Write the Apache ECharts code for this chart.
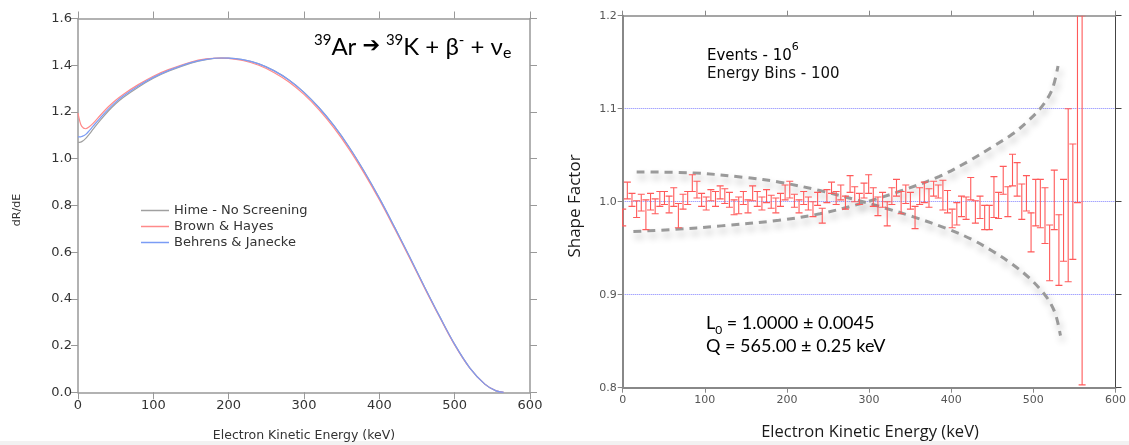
<!DOCTYPE html>
<html><head><meta charset="utf-8">
<script src="https://cdn.jsdelivr.net/npm/echarts@6/dist/echarts.min.js"></script>
<style>html,body{margin:0;padding:0;background:#fff}#c{width:1129px;height:445px}</style>
</head><body><div id="c"></div>
<script>
// ---------- Left panel: beta spectrum of 39Ar ----------
const energyL = [0, 2, 5, 10, 15, 20, 30, 40, 50, 60, 80, 100, 120, 150, 170, 190, 200, 220, 240, 260, 280, 300, 320, 340, 360, 380, 400, 420, 440, 460, 480, 500, 520, 540, 555, 565];
const hime    = [1.070, 1.070, 1.073, 1.086, 1.105, 1.126, 1.166, 1.203, 1.235, 1.262, 1.306, 1.344, 1.374, 1.409, 1.424, 1.430, 1.430, 1.423, 1.406, 1.377, 1.337, 1.284, 1.218, 1.140, 1.049, 0.945, 0.831, 0.708, 0.581, 0.451, 0.325, 0.205, 0.105, 0.035, 0.006, 0.0];
const brown   = [1.195, 1.165, 1.138, 1.128, 1.137, 1.151, 1.187, 1.221, 1.250, 1.275, 1.317, 1.353, 1.381, 1.414, 1.427, 1.431, 1.429, 1.419, 1.400, 1.369, 1.328, 1.275, 1.209, 1.131, 1.040, 0.937, 0.824, 0.702, 0.576, 0.447, 0.322, 0.203, 0.104, 0.035, 0.006, 0.0];
const behrens = [1.093, 1.093, 1.095, 1.103, 1.120, 1.139, 1.176, 1.211, 1.242, 1.268, 1.311, 1.348, 1.377, 1.411, 1.425, 1.431, 1.430, 1.423, 1.406, 1.377, 1.337, 1.284, 1.218, 1.140, 1.049, 0.945, 0.831, 0.708, 0.581, 0.451, 0.325, 0.205, 0.105, 0.035, 0.006, 0.0];
const seriesNames = ['Hime - No Screening', 'Brown & Hayes', 'Behrens & Janecke'];

// ---------- Right panel: shape factor, 100 energy bins ----------
const binWidth = 5.65; // keV (100 bins up to Q = 565 keV)
const shapeVal = [
  0.983, 1.012, 1.002, 0.992, 0.999, 0.986, 1.000, 0.995, 1.003, 1.004,
  0.997, 1.005, 0.985, 1.000, 1.004, 1.020, 1.013, 1.002, 0.998, 1.007,
  1.003, 1.010, 1.006, 1.002, 0.994, 0.996, 1.004, 0.995, 1.009, 1.003,
  0.998, 1.006, 1.000, 0.996, 1.002, 1.010, 1.013, 1.001, 0.995, 1.004,
  0.998, 0.992, 1.003, 0.985, 1.006, 1.015, 1.004, 1.010, 0.999, 1.019,
  1.008, 1.003, 1.012, 1.019, 1.005, 0.995, 1.002, 0.987, 1.006, 1.015,
  0.999, 1.008, 1.001, 0.983, 1.006, 1.010, 1.004, 1.014, 1.011, 1.007,
  1.000, 0.982, 0.987, 0.995, 0.993, 1.014, 0.989, 0.994, 0.983, 0.983,
  1.005, 0.996, 1.023, 1.000, 1.034, 1.024, 1.000, 1.009, 0.967, 0.999,
  0.998, 0.985, 0.945, 1.002, 0.948, 0.980, 1.007, 1.000, 1.120, 1.0015
];
const shapeErr = [
  0.009, 0.009, 0.007, 0.009, 0.009, 0.016, 0.009, 0.008, 0.008, 0.007,
  0.009, 0.010, 0.013, 0.008, 0.007, 0.009, 0.009, 0.007, 0.007, 0.006,
  0.008, 0.007, 0.008, 0.008, 0.008, 0.009, 0.007, 0.007, 0.008, 0.008,
  0.007, 0.007, 0.007, 0.008, 0.007, 0.008, 0.009, 0.007, 0.007, 0.007,
  0.007, 0.008, 0.007, 0.008, 0.007, 0.006, 0.007, 0.008, 0.007, 0.009,
  0.008, 0.006, 0.008, 0.010, 0.010, 0.010, 0.008, 0.013, 0.009, 0.009,
  0.012, 0.010, 0.009, 0.012, 0.009, 0.011, 0.010, 0.008, 0.007, 0.016,
  0.012, 0.010, 0.012, 0.011, 0.012, 0.012, 0.012, 0.012, 0.013, 0.013,
  0.022, 0.014, 0.015, 0.016, 0.017, 0.018, 0.019, 0.019, 0.021, 0.025,
  0.026, 0.030, 0.030, 0.032, 0.038, 0.044, 0.093, 0.062, 0.121, 0.1985
];
// Dashed envelope curves (+/- bands)
const upperE = [17, 85, 150, 191, 240, 288, 320, 353, 398, 426, 450, 474, 495, 513, 522, 528, 533];
const upperV = [1.032, 1.031, 1.026, 1.021, 1.012, 1.001, 0.993, 0.984, 0.970, 0.959, 0.947, 0.933, 0.918, 0.901, 0.889, 0.876, 0.856];
const lowerE = [13, 60, 120, 190, 240, 290, 340, 385, 420, 450, 475, 495, 511, 523, 530];
const lowerV = [0.968, 0.970, 0.974, 0.980, 0.987, 0.998, 1.012, 1.027, 1.043, 1.059, 1.073, 1.088, 1.103, 1.121, 1.146];

const zip = (xs, ys) => xs.map((x, i) => [x, ys[i]]);
const errData = shapeVal.map((v, i) => [i * binWidth, v - shapeErr[i], v + shapeErr[i]]);

const chart = echarts.init(document.getElementById('c'), null, {renderer: 'canvas'});

function xAx(grid, pos, showLabel, lineColor, lineWidth, labelSize, labelColor, tickLen) {
  return {
    type: 'value', gridIndex: grid, position: pos, min: 0, max: 600, interval: 100,
    axisLine: {show: true, onZero: false, lineStyle: {color: lineColor, width: lineWidth}},
    axisTick: {show: true, inside: false, length: tickLen, lineStyle: {color: lineColor, width: 1}},
    axisLabel: {show: showLabel, color: labelColor, fontSize: labelSize, fontFamily: 'DejaVu Sans', margin: 7},
    splitLine: {show: false}
  };
}
function yAx(grid, pos, min, max, itv, showLabel, lineColor, lineWidth, labelSize, labelColor, tickLen, split) {
  return {
    type: 'value', gridIndex: grid, position: pos, min: min, max: max, interval: itv,
    axisLine: {show: true, onZero: false, lineStyle: {color: lineColor, width: lineWidth}},
    axisTick: {show: true, inside: false, length: tickLen, lineStyle: {color: lineColor, width: 1}},
    axisLabel: {show: showLabel, color: labelColor, fontSize: labelSize, fontFamily: 'DejaVu Sans', margin: 6,
      formatter: v => v.toFixed(1)},
    splitLine: split ? {show: true, showMinLine: false, showMaxLine: false,
      lineStyle: {color: '#8080ff', type: 'dotted', width: 1}} : {show: false}
  };
}

function renderErr(params, api) {
  const x = api.value(0), lo = api.value(1), hi = api.value(2);
  const a = api.coord([x, hi]), b = api.coord([x, lo]);
  const hw = 3.5;
  const st = {stroke: '#ff5a5a', lineWidth: 1.1};
  return {type: 'group', children: [
    {type: 'line', shape: {x1: a[0], y1: a[1], x2: b[0], y2: b[1]}, style: st},
    {type: 'line', shape: {x1: a[0] - hw, y1: a[1], x2: a[0] + hw, y2: a[1]}, style: st},
    {type: 'line', shape: {x1: b[0] - hw, y1: b[1], x2: b[0] + hw, y2: b[1]}, style: st}
  ]};
}

const dashStyle = {color: '#9a9a9a', width: 3, type: [8, 6],
  shadowColor: 'rgba(0,0,0,0.3)', shadowBlur: 7, shadowOffsetX: 2, shadowOffsetY: 5};

const option = {
  animation: false,
  backgroundColor: '#ffffff',
  grid: [
    {left: 78, top: 18.5, width: 452, height: 373.8},
    {left: 622.7, top: 15.7, width: 494, height: 372}
  ],
  legend: {
    data: seriesNames, orient: 'vertical', left: 136, top: 199,
    icon: 'rect', itemWidth: 28, itemHeight: 1.5, itemGap: 3,
    textStyle: {fontFamily: 'DejaVu Sans', fontSize: 13, color: '#333', lineHeight: 13, padding: [0, 0, 0, 0]},
    selectedMode: false
  },
  xAxis: [
    xAx(0, 'bottom', true, '#999', 1.5, 13, '#333', 7),
    xAx(0, 'top', false, '#999', 1.5, 13, '#333', 7),
    xAx(1, 'bottom', true, '#888', 2, 11, '#555', 5),
    xAx(1, 'top', false, '#888', 1.5, 11, '#555', 5)
  ],
  yAxis: [
    yAx(0, 'left', 0, 1.6, 0.2, true, '#999', 1.5, 13, '#333', 7, false),
    yAx(0, 'right', 0, 1.6, 0.2, false, '#999', 1.5, 13, '#333', 7, false),
    yAx(1, 'left', 0.8, 1.2, 0.1, true, '#888', 2, 11, '#555', 5, true),
    yAx(1, 'right', 0.8, 1.2, 0.1, false, '#444', 1, 11, '#555', 6, false)
  ],
  series: [
    {name: seriesNames[0], type: 'line', xAxisIndex: 0, yAxisIndex: 0, data: zip(energyL, hime),
      showSymbol: false, smooth: 0.35, lineStyle: {color: '#a0a0a0', width: 1.2}, itemStyle: {color: '#a0a0a0'}},
    {name: seriesNames[1], type: 'line', xAxisIndex: 0, yAxisIndex: 0, data: zip(energyL, brown),
      showSymbol: false, smooth: 0.35, lineStyle: {color: '#ff8a8a', width: 1.2}, itemStyle: {color: '#ff8a8a'}},
    {name: seriesNames[2], type: 'line', xAxisIndex: 0, yAxisIndex: 0, data: zip(energyL, behrens),
      showSymbol: false, smooth: 0.35, lineStyle: {color: '#7b9cf5', width: 1.2}, itemStyle: {color: '#7b9cf5'}},
    {name: 'upperBand', type: 'line', xAxisIndex: 2, yAxisIndex: 2, data: zip(upperE, upperV),
      showSymbol: false, smooth: 0.35, lineStyle: dashStyle, z: 1},
    {name: 'lowerBand', type: 'line', xAxisIndex: 2, yAxisIndex: 2, data: zip(lowerE, lowerV),
      showSymbol: false, smooth: 0.35, lineStyle: dashStyle, z: 1},
    {name: 'shape', type: 'custom', xAxisIndex: 2, yAxisIndex: 2, data: errData,
      renderItem: renderErr, clip: true, z: 3, encode: {x: 0, y: [1, 2]}}
  ],
  graphic: [
    {type: 'rect', shape: {x: 0, y: 441, width: 1129, height: 4}, style: {fill: '#f2f2f2'}, silent: true},
    {type: 'text', left: 314, top: 33, style: {
      text: '{s|39}{b|Ar }{a|➔}{s| 39}{b|K + β}{s|-}{b| + ν}{e|e}',
      rich: {
        b: {fontFamily: 'Lato', fontSize: 24, color: '#000', lineHeight: 28, verticalAlign: 'middle'},
        s: {fontFamily: 'Lato', fontSize: 15, color: '#000', lineHeight: 28, verticalAlign: 'top', padding: [0, 0, 0, 0]},
        e: {fontFamily: 'Lato', fontSize: 16, color: '#000', lineHeight: 18, verticalAlign: 'bottom'},
        a: {fontFamily: 'DejaVu Sans', fontSize: 21, color: '#000', lineHeight: 28, verticalAlign: 'middle', padding: [0, 2, 0, 0]}
      }}},
    {type: 'text', x: 17, y: 210, rotation: Math.PI / 2, style: {
      text: 'dR/dE', fontFamily: 'DejaVu Sans', fontSize: 11, fill: '#333', align: 'center', verticalAlign: 'middle'}},
    {type: 'text', x: 304, y: 436, style: {
      text: 'Electron Kinetic Energy (keV)', fontFamily: 'DejaVu Sans', fontSize: 12.5, fill: '#333', align: 'center', verticalAlign: 'middle'}},
    {type: 'text', x: 575, y: 206, rotation: Math.PI / 2, style: {
      text: 'Shape Factor', fontFamily: 'Open Sans', fontSize: 17, fill: '#1a1a1a', align: 'center', verticalAlign: 'middle'}},
    {type: 'text', x: 870, y: 432, style: {
      text: 'Electron Kinetic Energy (keV)', fontFamily: 'Open Sans', fontSize: 16.5, fill: '#1a1a1a', align: 'center', verticalAlign: 'middle'}},
    {type: 'text', left: 707, top: 42, style: {
      text: '{t|Events - 10}{u|6}', rich: {
        t: {fontFamily: 'DejaVu Sans', fontSize: 15, color: '#111', lineHeight: 22, verticalAlign: 'bottom'},
        u: {fontFamily: 'DejaVu Sans', fontSize: 11, color: '#111', lineHeight: 22, verticalAlign: 'top'}}}},
    {type: 'text', left: 707, top: 67, style: {
      text: 'Energy Bins - 100', fontFamily: 'DejaVu Sans', fontSize: 15, fill: '#111'}},
    {type: 'text', left: 706, top: 314, style: {
      text: '{t|L}{d|0}{t| = 1.0000 ± 0.0045}', rich: {
        t: {fontFamily: 'Lato', fontSize: 18, color: '#000', lineHeight: 22, verticalAlign: 'top'},
        d: {fontFamily: 'Lato', fontSize: 12, color: '#000', lineHeight: 22, verticalAlign: 'bottom'}}}},
    {type: 'text', left: 706, top: 337, style: {
      text: 'Q = 565.00 ± 0.25 keV', fontFamily: 'Lato', fontSize: 18, fill: '#000'}}
  ]
};
chart.setOption(option);
</script></body></html>
